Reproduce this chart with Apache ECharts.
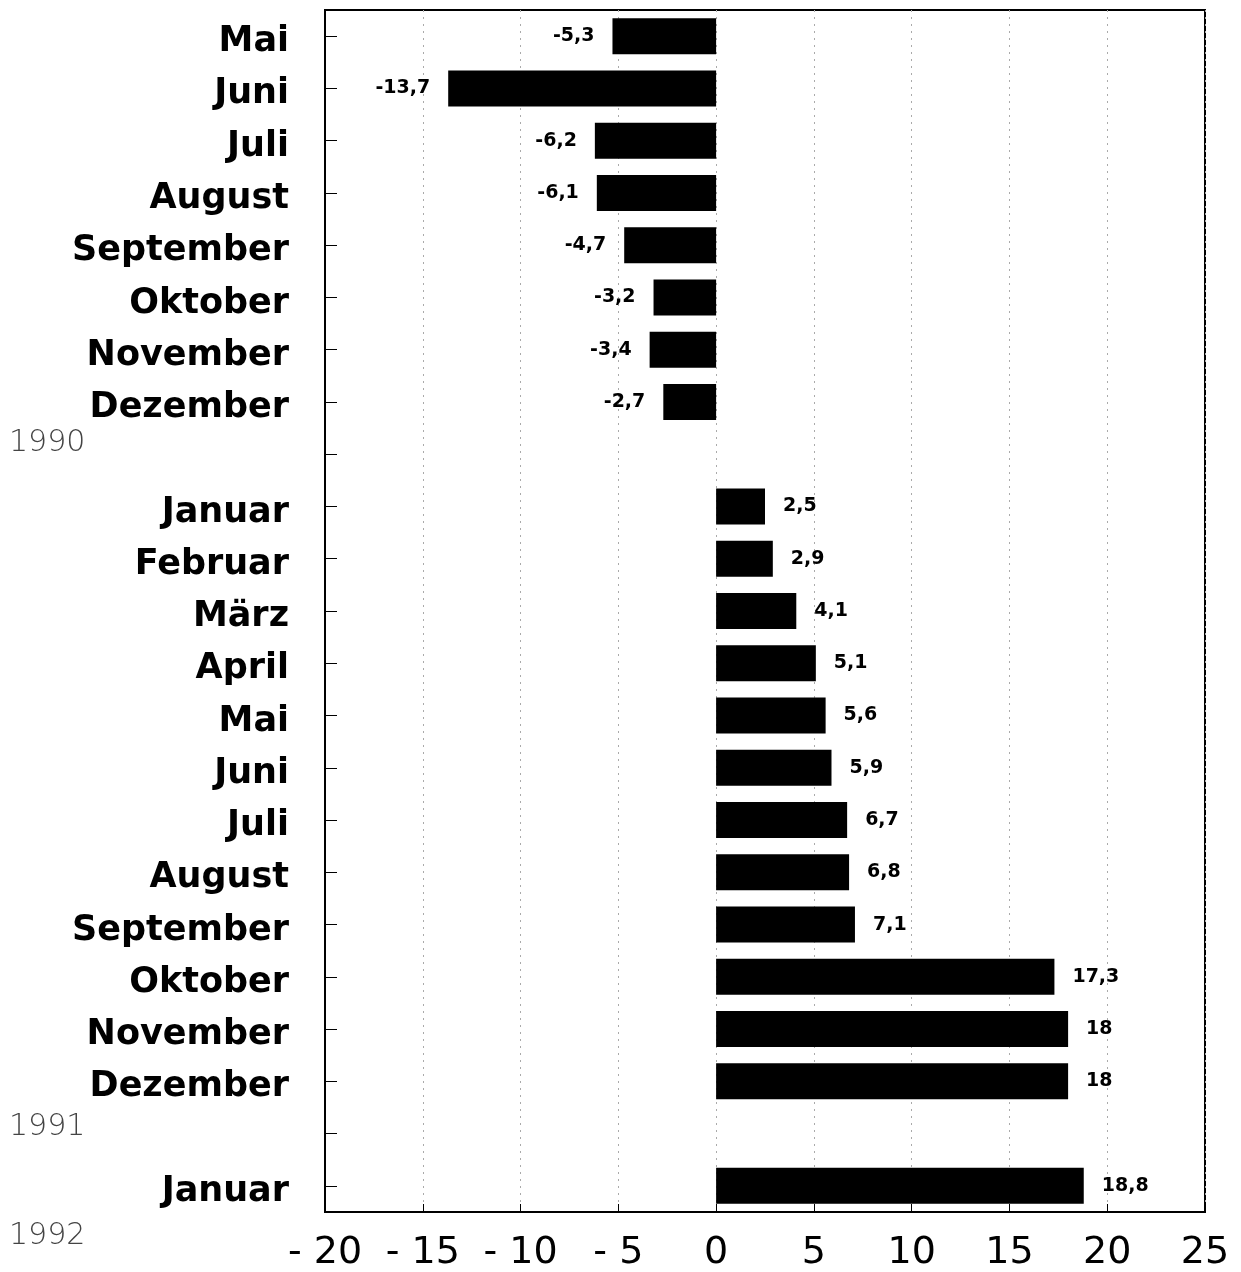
<!DOCTYPE html>
<html>
<head>
<meta charset="utf-8">
<script src="https://cdn.jsdelivr.net/npm/echarts@6/dist/echarts.min.js"></script>
<style>html,body{margin:0;padding:0;background:#fff}#c{width:1241px;height:1272px}</style>
</head>
<body>
<div id="c"></div>
<script>
// Category keys (unique), display labels and values
const categories = ['05/1990','06/1990','07/1990','08/1990','09/1990','10/1990','11/1990','12/1990','gap1',
  '01/1991','02/1991','03/1991','04/1991','05/1991','06/1991','07/1991','08/1991','09/1991','10/1991','11/1991','12/1991','gap2',
  '01/1992'];
const monthLabels = ['Mai','Juni','Juli','August','September','Oktober','November','Dezember','',
  'Januar','Februar','März','April','Mai','Juni','Juli','August','September','Oktober','November','Dezember','',
  'Januar'];
const values = [-5.3,-13.7,-6.2,-6.1,-4.7,-3.2,-3.4,-2.7,null,
  2.5,2.9,4.1,5.1,5.6,5.9,6.7,6.8,7.1,17.3,18,18,null,
  18.8];
const xTicks = [-20,-15,-10,-5,0,5,10,15,20,25];
const yearLabels = ['1990','1991','1992'];

const chart = echarts.init(document.getElementById('c'), null, {renderer:'canvas'});
const fmt = v => String(v).replace('.', ',');
const seriesData = values.map(v => v === null ? null : {
  value: v,
  label: {position: v < 0 ? 'left' : 'right'}
});
const yearStyle = {fontFamily: 'DejaVu Sans', fontWeight: 200, fontSize: 30, fill: '#444'};
chart.setOption({
  animation: false,
  backgroundColor: '#fff',
  grid: {left: 325, right: 36, top: 10, bottom: 58, show: true, borderColor: '#000', borderWidth: 2, backgroundColor: 'transparent'},
  xAxis: {
    type: 'value', min: xTicks[0], max: xTicks[xTicks.length-1], interval: 5,
    axisLine: {show: true, onZero: false, lineStyle: {color: '#000', width: 2}},
    axisTick: {show: true, inside: true, length: 8, lineStyle: {color: '#000', width: 1}},
    splitLine: {show: true, lineStyle: {color: '#aaa', width: 1, type: [2, 5]}},
    axisLabel: {margin: 22, fontFamily: 'DejaVu Sans', fontSize: 38, color: '#000',
      formatter: v => String(v).replace('-', '- ')}
  },
  yAxis: {
    type: 'category', inverse: true, data: categories,
    axisLine: {show: true, onZero: false, lineStyle: {color: '#000', width: 2}},
    axisTick: {show: true, inside: true, alignWithLabel: true, length: 12, lineStyle: {color: '#000', width: 1}},
    splitLine: {show: false},
    axisLabel: {margin: 36, color: '#000',
      formatter: (v, i) => monthLabels[i] ? '{m|' + monthLabels[i] + '}' : '',
      rich: {m: {fontFamily: 'DejaVu Sans', fontWeight: 'bold', fontSize: 35, color: '#000', padding: [12, 0, 0, 0]}}}
  },
  series: [{
    type: 'bar', data: seriesData, barWidth: 36,
    itemStyle: {color: '#000'},
    label: {show: true, distance: 18, fontFamily: 'DejaVu Sans', fontWeight: 'bold', fontSize: 19, color: '#000',
      formatter: p => fmt(p.value)}
  }],
  graphic: [
    {type: 'text', left: 9, top: 428, style: Object.assign({text: yearLabels[0]}, yearStyle)},
    {type: 'text', left: 9, top: 1112, style: Object.assign({text: yearLabels[1]}, yearStyle)},
    {type: 'text', left: 9, top: 1221, style: Object.assign({text: yearLabels[2]}, yearStyle)}
  ]
});
</script>
</body>
</html>
